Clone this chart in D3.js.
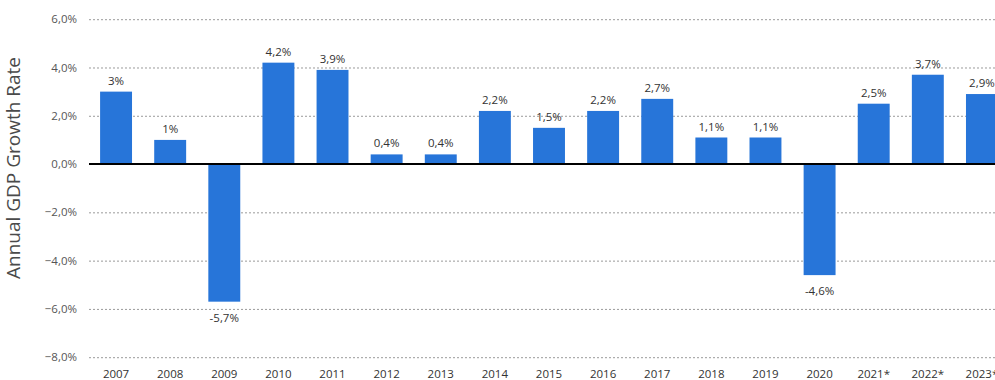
<!DOCTYPE html>
<html>
<head>
<meta charset="utf-8">
<script src="https://cdn.jsdelivr.net/npm/d3@7"></script>
<style>
  html, body { margin: 0; padding: 0; background: #fff; overflow: hidden; }
  svg { display: block; font-family: "Open Sans", "Noto Sans", sans-serif; }
</style>
</head>
<body>
<svg id="chart" width="995" height="380"></svg>
<script>
// Annual GDP growth rate by year (* = forecast)
const years = ["2007","2008","2009","2010","2011","2012","2013","2014","2015","2016","2017","2018","2019","2020","2021*","2022*","2023*"];
const growth = [3, 1, -5.7, 4.2, 3.9, 0.4, 0.4, 2.2, 1.5, 2.2, 2.7, 1.1, 1.1, -4.6, 2.5, 3.7, 2.9];
const yTicks = [6, 4, 2, 0, -2, -4, -6, -8];
const yTitle = "Annual GDP Growth Rate";

const svg = d3.select("#chart");
const plotLeft = 89, plotRight = 1009, plotTop = 19.2, plotBottom = 357.2;

const x = d3.scaleBand().domain(years).range([plotLeft, plotRight])
  .paddingInner(0.41).paddingOuter(0.205);
const y = d3.scaleLinear().domain([-8, 6]).range([plotBottom, plotTop]);

const fmt = v => d3.format(".1f")(v).replace(".", ",") + "%";
const fmtLabel = v => (Number.isInteger(v) ? String(v) : String(v).replace(".", ",")) + "%";

// dotted gridlines
svg.append("g").selectAll("line").data(yTicks.filter(t => t !== 0)).join("line")
  .attr("x1", plotLeft).attr("x2", 995)
  .attr("y1", d => y(d) + 0.5).attr("y2", d => y(d) + 0.5)
  .attr("stroke", "#9a9a9a").attr("stroke-width", 1)
  .attr("stroke-dasharray", "2,2");

// y tick labels
svg.append("g").selectAll("text").data(yTicks).join("text")
  .attr("x", 77).attr("y", d => y(d)).attr("dy", "0.35em")
  .attr("text-anchor", "end").attr("font-size", 11.5).attr("fill", "#555")
  .text(fmt);

// y axis title
svg.append("text")
  .attr("transform", "translate(20,168) rotate(-90)")
  .attr("text-anchor", "middle").attr("font-size", 19).attr("fill", "#4a4a4a")
  .text(yTitle);

const data = years.map((k, i) => ({ k, v: growth[i] }));

// bars
svg.append("g").selectAll("rect").data(data).join("rect")
  .attr("x", d => x(d.k)).attr("width", x.bandwidth())
  .attr("y", d => y(Math.max(0, d.v)))
  .attr("height", d => Math.abs(y(d.v) - y(0)))
  .attr("fill", "#2775d9");

// zero baseline
svg.append("line")
  .attr("x1", plotLeft).attr("x2", 995)
  .attr("y1", y(0)).attr("y2", y(0))
  .attr("stroke", "#000").attr("stroke-width", 2);

// value labels
svg.append("g").selectAll("text").data(data).join("text")
  .attr("x", d => x(d.k) + x.bandwidth() / 2)
  .attr("y", d => d.v >= 0 ? y(d.v) - 7 : y(d.v) + 20)
  .attr("text-anchor", "middle").attr("font-size", 11.5).attr("fill", "#333")
  .text(d => fmtLabel(d.v));

// x category labels
svg.append("g").selectAll("text").data(years).join("text")
  .attr("x", d => x(d) + x.bandwidth() / 2).attr("y", 378)
  .attr("text-anchor", "middle").attr("font-size", 11.5).attr("fill", "#333")
  .text(d => d);
</script>
</body>
</html>
